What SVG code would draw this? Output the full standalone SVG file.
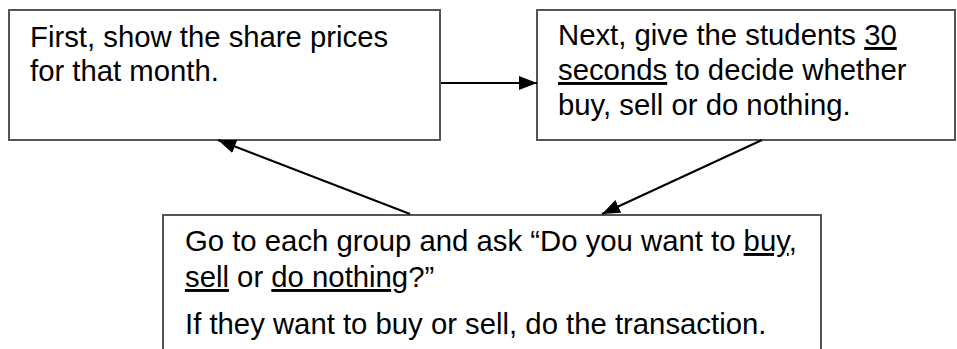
<svg xmlns="http://www.w3.org/2000/svg" width="957" height="349" viewBox="0 0 957 349">
<defs>
<style>
.box{fill:#fff;stroke:#555;stroke-width:2}
.t{font-family:"Liberation Sans",Arial,sans-serif;font-size:29.3px;fill:#000}
.u{text-decoration:underline}
.c{stroke:#000;stroke-width:2;fill:none}
</style>
<marker id="ah" markerUnits="userSpaceOnUse" viewBox="0 0 18 14" refX="18" refY="7" markerWidth="18" markerHeight="14" orient="auto">
<path d="M0,0 L18,7 L0,14 Z" fill="#000"/>
</marker>
</defs>
<rect width="957" height="349" fill="#fff"/>
<g id="node-first">
<rect class="box" x="9" y="10" width="431" height="130"/>
<text class="t" x="30" y="47">First, show the share prices</text>
<text class="t" x="30" y="81">for that month.</text>
</g>
<g id="node-next">
<rect class="box" x="537" y="10" width="418" height="130"/>
<text class="t" x="558" y="45">Next, give the students <tspan class="u">30</tspan></text>
<text class="t" x="558" y="80"><tspan class="u">seconds</tspan> to decide whether</text>
<text class="t" x="558" y="115">buy, sell or do nothing.</text>
</g>
<g id="node-go">
<rect class="box" x="163" y="215" width="658" height="150"/>
<text class="t" x="185" y="251">Go to each group and ask “Do you want to <tspan class="u">buy</tspan>,</text>
<text class="t" x="185" y="287"><tspan class="u">sell</tspan> or <tspan class="u">do nothing</tspan>?”</text>
<text class="t" x="185" y="334">If they want to buy or sell, do the transaction.</text>
</g>
<g id="connectors">
<line class="c" x1="441" y1="83" x2="537" y2="83" marker-end="url(#ah)"/>
<line class="c" x1="410" y1="214" x2="218" y2="140" marker-end="url(#ah)"/>
<line class="c" x1="762" y1="140" x2="602" y2="214" marker-end="url(#ah)"/>
</g>
</svg>
